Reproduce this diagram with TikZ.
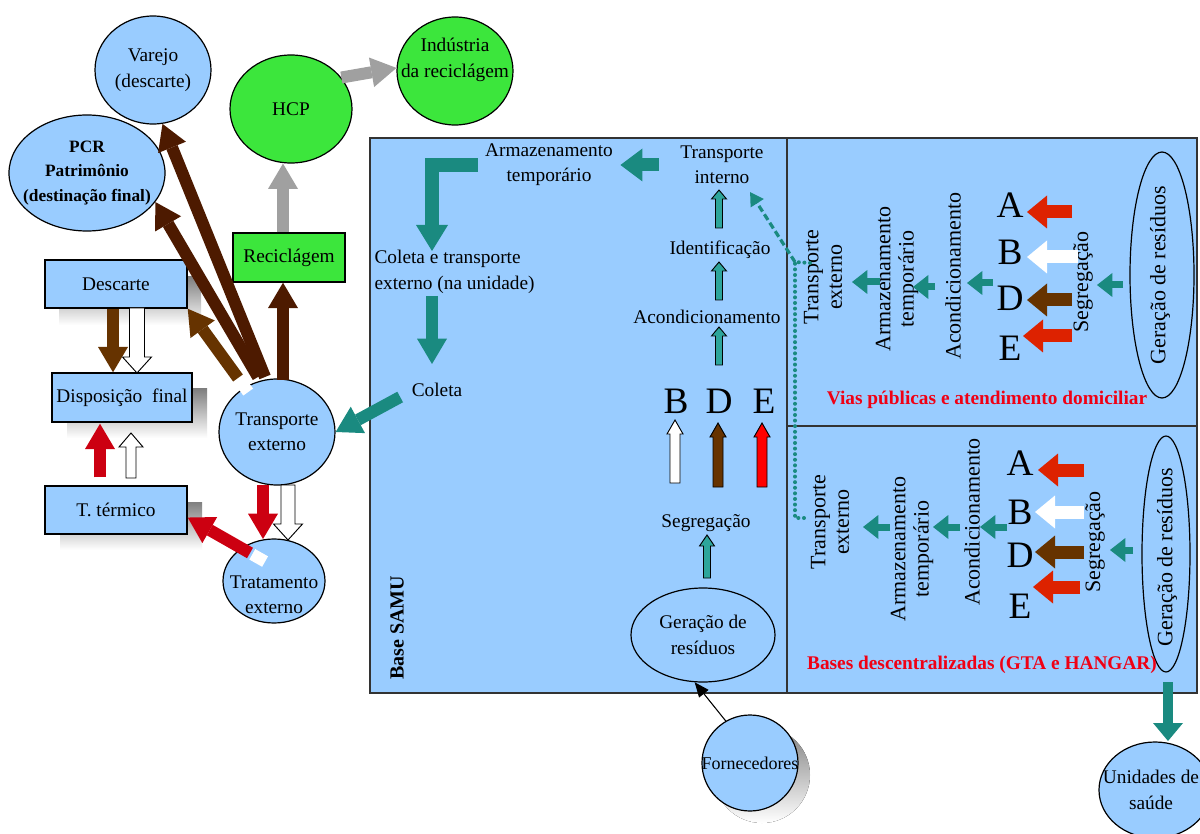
\documentclass[tikz,border=0pt]{standalone}
\usepackage{fontspec}
\setmainfont{Liberation Serif}
\usetikzlibrary{arrows.meta,shapes.geometric,calc}

\definecolor{skyfill}{RGB}{153,204,255}
\definecolor{leaf}{RGB}{60,230,60}
\definecolor{tealc}{RGB}{26,138,128}
\definecolor{tealsoft}{RGB}{45,165,155}
\definecolor{bark}{RGB}{77,26,0}
\definecolor{umber}{RGB}{102,51,0}
\definecolor{crimson}{RGB}{204,0,17}
\definecolor{vermil}{RGB}{221,34,0}
\definecolor{ash}{RGB}{160,160,160}
\definecolor{shade}{RGB}{192,192,192}
\definecolor{tagred}{RGB}{240,0,20}

\newcommand\txtfont{\fontsize{14.5}{19}\selectfont}
\newcommand\rotfont{\fontsize{16.5}{17.5}\selectfont}
\newcommand\pcrfont{\fontsize{13}{18.5}\selectfont\bfseries}
\newcommand\capfont{\fontsize{28}{30}\selectfont}
\newcommand\tagfont{\fontsize{14.5}{17}\selectfont\bfseries}

% vertical block arrow with black outline:
% x, tail y, head-base y, tip y, half shaft, half head, fill
\newcommand\vblock[7]{%
  \filldraw[fill=#7, draw=black, line width=0.7pt, line join=miter]
    ({#1-#5},#2) -- ({#1-#5},#3) -- ({#1-#6},#3) -- (#1,#4) --
    ({#1+#6},#3) -- ({#1+#5},#3) -- ({#1+#5},#2) -- cycle;}

\begin{document}
\begin{tikzpicture}[x=0.75pt, y=-0.75pt,
  ell/.style 2 args={ellipse, draw=black, line width=0.9pt, inner sep=0pt,
    minimum width=#1*1.5pt, minimum height=#2*1.5pt},
  sky/.style={fill=skyfill},
  grn/.style={fill=leaf},
  rbox/.style 2 args={rectangle, draw=black, line width=1.1pt, inner sep=0pt,
    minimum width=#1*0.75pt, minimum height=#2*0.75pt, font=\txtfont},
  lbl/.style={font=\txtfont, align=center, inner sep=1pt},
  vlbl/.style={font=\rotfont, align=center, rotate=90, inner sep=1pt},
  lettr/.style={font=\capfont, inner sep=0pt},
  redtag/.style={font=\tagfont, text=tagred, inner sep=1pt},
  arrbig/.style={line width=9pt, -{Triangle[length=19pt,width=22.5pt,line width=0pt]}},
  arrwide/.style={line width=9.75pt, -{Triangle[length=16.5pt,width=24.75pt,line width=0pt]}},
  arrmid/.style={line width=9.75pt, -{Triangle[length=15pt,width=24.75pt,line width=0pt]}},
  arrslim/.style={line width=5.25pt, -{Triangle[length=11.5pt,width=18pt,line width=0pt]}},
]
\useasboundingbox (0,0) rectangle (1200,834);
\fill[white] (0,0) rectangle (1200,834);

% ---------- drop shadows ----------
\fill[shade] (59,277) rectangle (201,325);
\fill[shade] (67,389) rectangle (207,438);
\fill[shade] (60,502) rectangle (202,550);
\fill[shade] (762,775) circle [radius=48];

% ---------- SAMU panel ----------
\filldraw[fill=skyfill, draw=black!80, line width=1.3pt] (370,138) rectangle (1197,693);
\draw[black!80, line width=1.1pt] (787,138) -- (787,693) (787,426) -- (1197,426);
\node[rotate=90, font=\fontsize{15}{17}\selectfont\bfseries, inner sep=0pt] (samu) at (397,628) {Base SAMU};

% ---------- external destinations ----------
\node[ell={58}{54}, sky, label={[lbl]center:Varejo\\(descarte)}] (varejo) at (153,70) {};
\node[ell={78}{58}, sky, label={[lbl, font=\pcrfont]center:PCR\\Patrimônio\\(destinação final)}] (pcr) at (87,173) {};
\node[ell={61}{54}, grn, label={[lbl]center:HCP}] (hcp) at (291,109) {};
\node[ell={58}{54}, grn] (ind) at (455,71) {};
\node[lbl] (indlbl) at (455,60) {Indústria\\da reciclágem};
\node[rbox={112}{49}, grn] (recic) at (289,257.5) {Reciclágem};
\node[rbox={142}{48}, sky] (descarte) at (116,284) {Descarte};
\node[rbox={140}{49}, sky] (disp) at (122,397.5) {Disposição\ \ final};
\node[rbox={142}{48}, sky] (termico) at (116,510) {T. térmico};
\node[ell={58}{53}, sky, label={[lbl]center:Transporte\\externo}] (trext) at (277,432) {};
\node[ell={51}{42}, sky] (trat) at (274,581) {};
\node[lbl] (tratlbl) at (274,595) {Tratamento\\externo};
\node[ell={48}{48}, sky, label={[lbl, font=\fontsize{13.5}{16}\selectfont]center:Fornecedores}] (forn) at (750,763) {};
\node[ell={56}{48}, sky] (unid) at (1155,790) {};
\node[lbl] (unidlbl) at (1151,790) {Unidades de\\saúde};

% ---------- base flow ----------
\node[lbl] (armaz) at (549,165) {Armazenamento\\temporário};
\node[lbl] (tint) at (722,165) {Transporte\\interno};
\node[lbl, align=left, anchor=west] (colext) at (373,272) {Coleta e transporte\\externo (na unidade)};
\node[lbl] (coleta) at (437,390) {Coleta};
\node[lbl] (ident) at (720,250) {Identificação};
\node[lbl] (acond) at (707,317) {Acondicionamento};
\node[lettr] (Bc) at (676,401) {B};
\node[lettr] (Dc) at (719,401) {D};
\node[lettr] (Ec) at (764,401) {E};
\node[lbl] (segc) at (706,523) {Segregação};
\node[ell={72}{47}, label={[lbl]center:Geração de\\resíduos}] (gerc) at (703,635) {};

% ---------- public roads and home care ----------
\node[ell={32}{123}] (gert) at (1162,275) {};
\node[vlbl] (gertlbl) at (1160,275) {Geração de resíduos};
\node[vlbl] (segt) at (1083,282) {Segregação};
\node[lettr] (At) at (1010,205) {A};
\node[lettr] (Bt) at (1010,252) {B};
\node[lettr] (Dt) at (1010,298) {D};
\node[lettr] (Et) at (1010,348) {E};
\node[vlbl] (acondt) at (953,276) {Acondicionamento};
\node[vlbl] (armt) at (897,279) {Armazenamento\\temporário};
\node[vlbl] (transt) at (823,277) {Transporte\\externo};
\node[redtag] (vias) at (987,400) {Vias públicas e atendimento domiciliar};

% ---------- decentralised bases ----------
\node[ell={24}{118}] (gerb) at (1166,554) {};
\node[vlbl] (gerblbl) at (1167,557) {Geração de resíduos};
\node[vlbl] (segb) at (1095,542) {Segregação};
\node[lettr] (Ab) at (1020,463) {A};
\node[lettr] (Bb) at (1020,512) {B};
\node[lettr] (Db) at (1020,555) {D};
\node[lettr] (Eb) at (1020,606) {E};
\node[vlbl] (acondb) at (972,522) {Acondicionamento};
\node[vlbl] (armb) at (912,549) {Armazenamento\\temporário};
\node[vlbl] (transb) at (830,522) {Transporte\\externo};
\node[redtag] (bases) at (982,665) {Bases descentralizadas (GTA e HANGAR)};

% ---------- recycling branch ----------
\draw[arrbig, ash] (hcp.32) -- (ind.177);
\coordinate (gx) at (283,0);
\draw[arrbig, ash] (gx |- recic.north) -- (gx |- hcp.south);

% ---------- outflows of external transport ----------
\draw[arrbig, bark] ($(trext.center)+(-12,-55)$) -- (varejo.-80);
\draw[arrbig, bark] ($(trext.center)+(-19,-55)$) -- (pcr.-23);
\draw[arrbig, bark] ($(trext.center)+(6,-52)$) -- ($(recic.south)+(-6,0)$);
\coordinate (dtail) at ($(trext.center)+(-39,-54)$);
\draw[arrbig, umber] (dtail) -- (descarte.south east);
\draw[white, line width=9pt] ($(dtail)!-3pt!(descarte.south east)$) -- ($(dtail)!-13pt!(descarte.south east)$);
\draw[arrbig, crimson] ($(trext.center)+(-14,53)$) -- ($(trat.center)+(-11,-42)$);
\vblock{288}{485}{524}{540}{7}{14.5}{white}
\coordinate (rtail) at ($(trat.center)+(-24,-28)$);
\draw[arrbig, crimson] (rtail) -- (termico.-6);
\draw[white, line width=9pt] ($(rtail)!-2pt!(termico.-6)$) -- ($(rtail)!-13pt!(termico.-6)$);

% ---------- final disposal ----------
\draw[arrbig, umber] ($(descarte.south)+(-3,0)$) -- ($(disp.north)+(-9,0)$);
\vblock{137}{308}{357}{373}{7.5}{14.5}{white}
\draw[arrbig, crimson] ($(termico.north)+(-16,-8)$) -- ($(disp.south)+(-22,1)$);
\vblock{131}{478}{447}{433}{5}{12}{white}

% ---------- base flow arrows ----------
\draw[arrbig, tealc] ($(coleta.west)+(-10,7)$) -- (trext.east);
\draw[arrwide, tealc] ($(tint.west)+(-20,0)$) -- ($(armaz.east)+(6,0)$);
\draw[tealc, line width=10.5pt, line join=miter,
  -{Triangle[length=19.5pt,width=24pt,line width=0pt]}] (armaz.west) ++(-6,0) -| (432,251);
\draw[arrbig, tealc] (432,296) -- (432,364);
\vblock{719}{228}{199}{190}{3.5}{7.5}{tealsoft}
\vblock{719}{300}{271}{262}{3.5}{7.5}{tealsoft}
\vblock{719}{365}{336}{327}{3.5}{7.5}{tealsoft}
\vblock{707}{578}{546}{535}{3.5}{7.5}{tealsoft}
\vblock{675}{483}{434}{420}{5}{8}{white}
\vblock{718}{487}{437}{423}{5}{8}{umber}
\vblock{762}{487}{437}{423}{5}{8}{red}
\draw[line width=0.8pt, -{Triangle[length=11pt,width=9pt]}] (forn.120) -- (gerc.-100);

% ---------- link from the other units ----------
\draw[tealc, line width=2.4pt, dash pattern=on 5pt off 2.5pt,
  -{Triangle[length=10pt,width=11pt]}] (795,262) -- (750,192);
\draw[tealc, line width=3pt, line cap=round, dash pattern=on 0pt off 4.2pt]
  (810,263) -- (795,262) -- (795,518) -- (808,518);

% ---------- public roads arrows ----------
\draw[arrmid, vermil] (1072,212) -- (1027,212);
\draw[arrmid, white] (1078,257) -- (1027,257);
\draw[arrmid, umber] (1072,300) -- (1027,300);
\draw[arrmid, vermil] (1072,336) -- (1023,336);
\draw[arrslim, tealc] (1123,285) -- (1097,285);
\draw[arrslim, tealc] (993,283) -- (967,283);
\draw[arrslim, tealc] (935,287) -- (913,287);
\draw[arrslim, tealc] (880,282) -- (852,282);

% ---------- decentralised bases arrows ----------
\draw[arrmid, vermil] (1084,470) -- (1038,470);
\draw[arrmid, white] (1084,512) -- (1035,512);
\draw[arrmid, umber] (1084,552) -- (1035,552);
\draw[arrmid, vermil] (1080,587) -- (1033,587);
\draw[arrslim, tealc] (1133,550) -- (1110,550);
\draw[arrslim, tealc] (1007,527) -- (980,527);
\draw[arrslim, tealc] (960,527) -- (933,527);
\draw[arrslim, tealc] (890,527) -- (863,527);

\draw[tealc, line width=7.5pt, -{Triangle[length=13.5pt,width=22.5pt,line width=0pt]}]
  (1168,682) -- (1168,741);
\end{tikzpicture}
\end{document}
